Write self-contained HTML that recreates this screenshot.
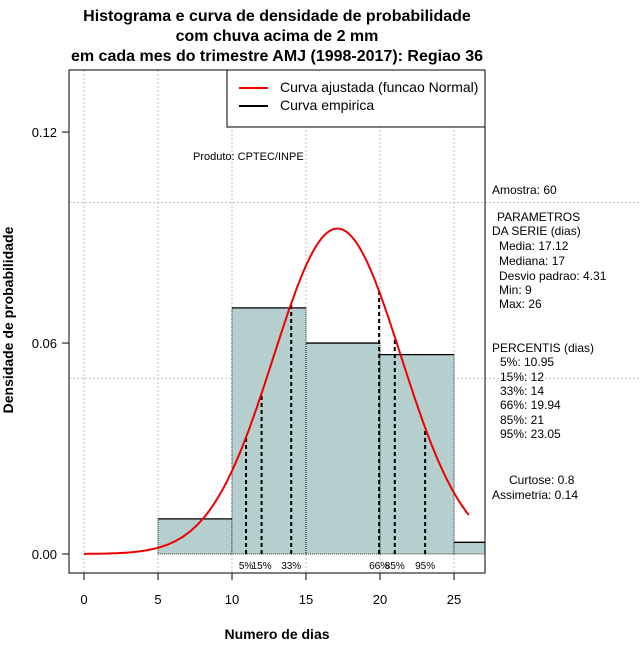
<!DOCTYPE html>
<html><head><meta charset="utf-8"><style>
body{margin:0;background:#fff}
svg{display:block;font-family:"Liberation Sans",sans-serif}
</style></head><body>
<svg id="chart" width="640" height="660">
<g id="grid"></g>
<g id="bars"></g>
<g id="pct"></g>
<g id="curve"></g>
<g id="axes"></g>
<g font-weight="bold" font-size="16" text-anchor="middle">
<text x="277" y="21">Histograma e curva de densidade de probabilidade</text>
<text x="277" y="41">com chuva acima de 2 mm</text>
<text x="277" y="61">em cada mes do trimestre AMJ (1998-2017): Regiao 36</text>
</g>
<text font-weight="bold" font-size="14" text-anchor="middle" transform="translate(13,320) rotate(-90)">Densidade de probabilidade</text>
<text font-weight="bold" font-size="14" text-anchor="middle" x="277" y="639">Numero de dias</text>
<text font-size="11" x="193" y="160">Produto: CPTEC/INPE</text>
<g>
<rect x="227" y="70" width="258" height="57" fill="#fff" stroke="#000"/>
<line x1="239" y1="88" x2="268" y2="88" stroke="#e00" stroke-width="2"/>
<line x1="239" y1="106" x2="268" y2="106" stroke="#000" stroke-width="2"/>
<text x="280" y="92" font-size="14">Curva ajustada (funcao Normal)</text>
<text x="280" y="110" font-size="14">Curva empirica</text>
</g>
<g font-size="12">
<text x="492" y="194">Amostra: 60</text>
<text x="497" y="221">PARAMETROS</text>
<text x="492" y="235">DA SERIE (dias)</text>
<text x="499" y="250">Media: 17.12</text>
<text x="499" y="265">Mediana: 17</text>
<text x="499" y="280">Desvio padrao: 4.31</text>
<text x="499" y="294">Min: 9</text>
<text x="499" y="308">Max: 26</text>
<text x="492" y="352">PERCENTIS (dias)</text>
<text x="500" y="366">5%: 10.95</text>
<text x="500" y="381">15%: 12</text>
<text x="500" y="395">33%: 14</text>
<text x="500" y="409">66%: 19.94</text>
<text x="500" y="424">85%: 21</text>
<text x="500" y="438">95%: 23.05</text>
<text x="509" y="484">Curtose: 0.8</text>
<text x="492" y="499">Assimetria: 0.14</text>
</g>
</svg>
<script>
const binEdges = [5, 10, 15, 20, 25, 30];
const binDensity = [0.01, 0.07, 0.06, 0.0567, 0.00333];
const fitMean = 17.12;
const fitSd = 4.31;
const pctValues = [10.95, 12, 14, 19.94, 21, 23.05];
const pctLabels = ["5%", "15%", "33%", "66%", "85%", "95%"];
const xTicks = [0, 5, 10, 15, 20, 25];
const yTicks = [0, 0.06, 0.12];
const yTickLabels = ["0.00", "0.06", "0.12"];
const yGrid = [0.05, 0.10];

const L=69,R=485,T=70,B=573;
const sx=v=>84+v*14.8;
const sy=v=>554-v*3516;
const NS="http://www.w3.org/2000/svg";
function mk(parent,tag,attrs){const e=document.createElementNS(NS,tag);for(const k in attrs)e.setAttribute(k,attrs[k]);document.getElementById(parent).appendChild(e);return e;}
const dens=x=>Math.exp(-0.5*((x-fitMean)/fitSd)**2)/(fitSd*Math.sqrt(2*Math.PI));

xTicks.forEach(v=>{const e=mk('grid','line',{x1:sx(v),x2:sx(v),y1:T,y2:B,stroke:'#bbb','stroke-dasharray':'2,2'});

});
yGrid.forEach(v=>{const e=mk('grid','line',{x1:L,x2:640,y1:sy(v),y2:sy(v),stroke:'#bbb','stroke-dasharray':'2,2'});

});

binDensity.forEach((d,i)=>{
 const x0=sx(binEdges[i]),x1=Math.min(sx(binEdges[i+1]),R),y=sy(d),y0=sy(0);
 const r=mk('bars','rect',{x:x0,y:y,width:x1-x0,height:y0-y,fill:'#b5cece',stroke:'#000','stroke-dasharray':'1,1','stroke-width':0.8});
 
 
 const t=mk('bars','line',{x1:x0,x2:x1,y1:y,y2:y,stroke:'#000','stroke-width':1.3});
 
 
});

pctValues.forEach((p,i)=>{
 const l=mk('pct','line',{x1:sx(p),x2:sx(p),y1:sy(0),y2:sy(dens(p)),stroke:'#000','stroke-width':2,'stroke-dasharray':'4,3'});
 
 
 const t=mk('pct','text',{x:sx(p),y:569,'font-size':10,'text-anchor':'middle'});t.textContent=pctLabels[i];
 
 
});

let d='';for(let x=0;x<=26.001;x+=0.1){d+=(x===0?'M':'L')+sx(x).toFixed(1)+','+sy(dens(x)).toFixed(1);}
const c=mk('curve','path',{d:d,fill:'none',stroke:'#e00','stroke-width':2});



const box=mk('axes','rect',{x:L,y:T,width:R-L,height:B-T,fill:'none',stroke:'#000'});


xTicks.forEach(v=>{mk('axes','line',{x1:sx(v),x2:sx(v),y1:B,y2:B+7,stroke:'#000'});
 const t=mk('axes','text',{x:sx(v),y:604,'font-size':13,'text-anchor':'middle'});t.textContent=v;
 
 });
yTicks.forEach((v,i)=>{mk('axes','line',{x1:L-7,x2:L,y1:sy(v),y2:sy(v),stroke:'#000'});
 const t=mk('axes','text',{x:L-12,y:sy(v)+5,'font-size':13,'text-anchor':'end'});t.textContent=yTickLabels[i];
 
 });
</script>
</body></html>
